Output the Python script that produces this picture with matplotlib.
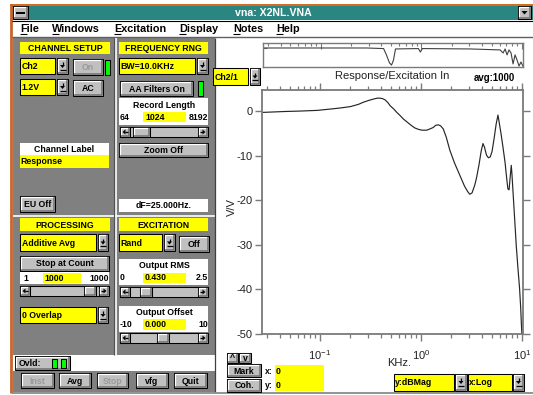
import matplotlib
matplotlib.use("Agg")
import matplotlib.pyplot as plt
from matplotlib.patches import Rectangle, Polygon
from matplotlib.ticker import FixedLocator, FixedFormatter, LogLocator, NullFormatter

plt.rcParams['font.family'] = ['Liberation Sans', 'DejaVu Sans']
plt.rcParams['mathtext.default'] = 'regular'
plt.rcParams['axes.unicode_minus'] = False

# ---- measured transfer function (Ch2/1), frequency in kHz, magnitude in dB
freq_khz = [0.0273, 0.045, 0.064, 0.094, 0.127, 0.160, 0.200, 0.240, 0.270, 0.305,
            0.339, 0.370, 0.395, 0.420, 0.442, 0.470, 0.495, 0.535, 0.576, 0.620,
            0.670, 0.740, 0.809, 0.870, 0.940, 1.02, 1.14, 1.23, 1.32, 1.40,
            1.48, 1.56, 1.66, 1.78, 1.93, 2.15, 2.42, 2.70, 2.90, 3.04,
            3.20, 3.40, 3.54, 3.75, 3.95, 4.11, 4.25, 4.45, 4.65, 4.85,
            5.05, 5.30, 5.55, 5.78, 5.95, 6.20, 6.47, 6.80, 7.05, 7.25,
            7.45, 7.62, 7.83, 7.95, 8.11, 8.40, 8.77, 9.10, 9.45, 9.70,
            9.88, 10.0]
mag_db = [-0.2, 0.0, 0.1, 0.25, 0.55, 0.8, 1.1, 1.6, 2.1, 2.5,
          2.8, 3.0, 3.0, 2.85, 2.6, 2.0, 1.3, 0.6, -0.2, -0.9,
          -1.7, -2.5, -3.2, -3.7, -4.0, -4.2, -4.2, -3.9, -3.6, -3.1,
          -3.0, -3.2, -3.9, -5.8, -8.7, -11.6, -14.3, -16.8, -18.0, -18.6,
          -18.3, -16.6, -15.0, -12.0, -8.8, -7.2, -8.0, -9.8, -10.4, -10.2,
          -9.0, -6.0, -2.8, -0.8, -2.5, -5.0, -7.9, -11.5, -15.0, -17.4,
          -17.6, -15.0, -12.1, -14.0, -17.3, -23.0, -30.1, -35.0, -39.6, -44.0,
          -48.2, -50.5]

# ---- coherence overview strip
coh_freq = [0.0273, 0.285, 0.421, 0.450, 0.482, 0.505, 0.528, 0.553, 0.934, 0.977,
            1.023, 3.05, 6.06, 6.49, 6.79, 7.10, 7.43, 7.78, 8.15, 8.53,
            8.92, 9.34, 9.77, 10.2]
coh_vals = [0.99, 0.99, 0.96, 0.62, 0.21, 0.10, 0.36, 0.94, 0.96, 0.78,
            0.96, 0.94, 0.89, 0.73, 0.94, 0.63, 0.89, 0.73, 0.16, 0.63,
            0.37, 0.05, 0.26, 0.05]

y_ticks = [0, -10, -20, -30, -40, -50]
y_tick_labels = ['0', '-10', '-20', '-30', '-40', '-50']
x_ticks = [0.1, 1.0, 10.0]
x_tick_labels = [r'$10^{-1}$', r'$10^{0}$', r'$10^{1}$']

menu_items = ['File', 'Windows', 'Excitation', 'Display', 'Notes', 'Help']
menu_x = [20, 52, 114, 179, 233, 276]

W, H = 533, 395
fig = plt.figure(figsize=(W / 100, H / 100), dpi=100)
fig.patch.set_facecolor('white')
ui = fig.add_axes([0, 0, 1, 1])
ui.set_xlim(0, W)
ui.set_ylim(H, 0)
ui.axis('off')

GRAY = '#808080'
FACE = '#c0c0c0'
YEL = '#ffff00'
GRN = '#00ff00'
UIFONT = 6.3


def rect(x0, y0, x1, y1, fc, ec='none', lw=0.8, z=1):
    ui.add_patch(Rectangle((x0, y0), x1 - x0, y1 - y0, facecolor=fc,
                           edgecolor=ec, lw=lw, zorder=z))


def line(xs, ys, c='black', lw=0.75, z=3):
    ui.plot(xs, ys, color=c, lw=lw, zorder=z, solid_capstyle='butt')


def label(x, y, s, ha='left', size=UIFONT, weight='bold', color='black', z=5):
    ui.text(x, y, s, ha=ha, va='center', fontsize=size, fontweight=weight,
            color=color, zorder=z)


def bevel(x0, y0, x1, y1, z=2):
    rect(x0, y0, x1, y1, FACE, 'black', 0.75, z)
    line([x0 + 1, x0 + 1, x1 - 1], [y1 - 1, y0 + 1, y0 + 1], 'white', 0.9, z + 0.1)
    line([x0 + 1, x1 - 1, x1 - 1], [y1 - 1, y1 - 1, y0 + 1], '#707070', 1.1, z + 0.1)


def button(x0, y0, x1, y1, text, enabled=True):
    bevel(x0, y0, x1, y1)
    label((x0 + x1) / 2, (y0 + y1) / 2 + 0.5, text, ha='center',
          color='black' if enabled else '#9a9a9a')


def down_glyph(cx, cy):
    line([cx, cx], [cy - 4, cy - 1], 'black', 0.9, 6)
    ui.add_patch(Polygon([[cx - 2.5, cy - 1], [cx + 2.5, cy - 1], [cx, cy + 2]],
                         closed=True, facecolor='black', edgecolor='none', zorder=6))
    line([cx - 3, cx + 3], [cy + 3.8, cy + 3.8], 'black', 0.9, 6)


def arrow_box(x0, y0, x1, y1, direction):
    bevel(x0, y0, x1, y1, z=3)
    cx, cy = (x0 + x1) / 2, (y0 + y1) / 2
    if direction < 0:
        pts = [[cx - 2.5, cy], [cx + 0.5, cy - 2.5], [cx + 0.5, cy + 2.5]]
        line([cx, cx + 3], [cy, cy], 'black', 0.9, 6)
    else:
        pts = [[cx + 2.5, cy], [cx - 0.5, cy - 2.5], [cx - 0.5, cy + 2.5]]
        line([cx - 3, cx], [cy, cy], 'black', 0.9, 6)
    ui.add_patch(Polygon(pts, closed=True, facecolor='black', edgecolor='none', zorder=6))


def scrollbar(x0, y0, x1, y1, t0, t1):
    rect(x0, y0, x1, y1, FACE, 'black', 0.75, 2)
    arrow_box(x0, y0, x0 + 10, y1, -1)
    arrow_box(x1 - 10, y0, x1, y1, 1)
    bevel(t0, y0, t1, y1, z=3)


def indicator(x0, y0, x1, y1):
    rect(x0, y0, x1, y1, GRN, 'black', 0.75, 3)


def range_box(y0, y1, title, lo, val, hi, title_y, row_y, ylo, yhi):
    rect(119, y0, 208, y1, 'white', 'none', 0.75, 2)
    if title:
        label(164, title_y, title, ha='center')
    rect(143, ylo, 186, yhi, YEL, 'none', 0.75, 3)
    label(119.5, row_y, lo)
    label(145, row_y, val)
    label(208, row_y, hi, ha='right')


# ---- window frame, title bar and menu
line([10, W], [4.5, 4.5], '#d2691e', 1.4, 2)
line([11, 11], [4, 393], '#c8642a', 2.0, 2)
rect(12, 5.5, W, 20, '#2a8680', 'none', 0, 1)
bevel(13, 6, 28, 19)
line([16, 25], [12.5, 12.5], 'black', 1.4, 6)
ui.text(273, 13, 'vna: X2NL.VNA', ha='center', va='center', fontsize=7.6,
        fontweight='bold', color='white', zorder=5)
bevel(518, 6, 531, 19)
ui.add_patch(Polygon([[521.5, 11], [527.5, 11], [524.5, 14.5]], closed=True,
                     facecolor='black', zorder=6))
rect(12, 20, W, 37, 'white', 'none', 0, 1)
line([12, W], [20.5, 20.5], 'black', 0.8, 2)
line([12, W], [37, 37], '#606060', 1.0, 2)
for name, mx in zip(menu_items, menu_x):
    ui.text(mx, 29.5, name, ha='left', va='center', fontsize=7.8,
            fontweight='bold', color='black', zorder=5)
    line([mx + 0.3, mx + 6.5], [34.2, 34.2], 'black', 0.8, 5)

# ---- left control column
rect(12.5, 38, 215, 355, GRAY, 'none', 0, 1)
rect(12.5, 355, 215, 371, 'white', 'none', 0, 1)
rect(12.5, 371, 215, 392, GRAY, 'none', 0, 1)
line([13, 215], [216, 216], 'white', 1.2, 2)
line([115.5, 115.5], [38, 357], 'white', 1.2, 2)
line([113.5, 113.5], [38, 355], '#505050', 0.8, 2)
line([214.5, 214.5], [38, 392], '#404040', 0.9, 2)
line([12, W], [392.5, 392.5], '#808080', 1.2, 2)

# CHANNEL SETUP
rect(20, 42, 110, 54, YEL, 'none', 0, 2)
label(65, 48.5, 'CHANNEL SETUP', ha='center')
rect(20, 58, 55, 74, YEL, 'black', 0.75, 2)
label(21.5, 66.5, 'Ch2')
bevel(57, 58, 68, 74)
down_glyph(62.5, 66)
button(73, 59, 103, 75, 'On', enabled=False)
indicator(105, 60, 110, 75)
rect(20, 79, 55, 95, YEL, 'black', 0.75, 2)
label(21.5, 87.5, '1.2V')
bevel(57, 79, 68, 95)
down_glyph(62.5, 87)
button(73, 80, 103, 96, 'AC')
rect(20, 143, 109, 155, 'white', 'none', 0, 2)
label(64.5, 149, 'Channel Label', ha='center')
rect(20, 155, 109, 168, YEL, 'none', 0, 2)
label(20.5, 161.5, 'Response')
button(20, 196, 55, 212, 'EU Off')

# FREQUENCY RNG
rect(119, 42, 208, 54, YEL, 'none', 0, 2)
label(163.5, 48.5, 'FREQUENCY RNG', ha='center')
rect(119, 58, 195, 74, YEL, 'black', 0.75, 2)
label(120.5, 66.5, 'BW=10.0KHz')
bevel(197, 58, 208, 74)
down_glyph(202.5, 66)
button(120, 81, 193, 96, 'AA Filters On')
indicator(198, 81, 203, 96)
range_box(98, 125, 'Record Length', '64', '1024', '8192', 105.5, 117.5, 112, 122)
scrollbar(120, 127, 208, 137, 133, 150)
button(119, 143, 208, 157, 'Zoom Off')
rect(119, 199, 208, 212, 'white', 'none', 0, 2)
label(163.5, 206, 'dF=25.000Hz.', ha='center')

# PROCESSING
rect(20, 218, 110, 231, YEL, 'none', 0, 2)
label(65, 225, 'PROCESSING', ha='center')
rect(20, 234, 96, 251, YEL, 'black', 0.75, 2)
label(21.5, 243, 'Additive Avg')
bevel(98, 234, 108, 251)
down_glyph(103, 242.5)
button(20, 256, 109, 271, 'Stop at Count')
rect(20, 272, 109, 284, 'white', 'none', 0, 2)
rect(43, 273, 81, 283, YEL, 'none', 0, 3)
label(26, 278.5, '1', ha='center')
label(44, 278.5, '1000')
label(109, 278.5, '1000', ha='right')
scrollbar(20, 286, 109, 296, 84, 96)
rect(20, 307, 96, 323, YEL, 'black', 0.75, 2)
label(21.5, 315.5, '0 Overlap')
bevel(98, 307, 108, 323)
down_glyph(103, 315)

# EXCITATION
rect(119, 218, 208, 231, YEL, 'none', 0, 2)
label(163.5, 225, 'EXCITATION', ha='center')
rect(119, 234, 162, 251, YEL, 'black', 0.75, 2)
label(120.5, 243, 'Rand')
bevel(164, 234, 175, 251)
down_glyph(169.5, 242.5)
button(179, 236, 209, 252, 'Off')
range_box(259, 285, 'Output RMS', '0', '0.430', '2.5', 265.5, 278, 273, 283)
scrollbar(120, 287, 208, 297, 140, 152)
range_box(306, 332, 'Output Offset', '-10', '0.000', '10', 312.5, 324.5, 319, 330)
scrollbar(120, 333, 208, 343, 157, 169)

# overload indicators and bottom buttons
bevel(15, 356, 70, 370)
label(19, 363.5, 'Ovld:')
indicator(52, 359, 57, 368)
indicator(61, 359, 66, 368)
button(21, 373, 54, 388, 'Inst', enabled=False)
button(59, 373, 91, 388, 'Avg')
button(97, 373, 128, 388, 'Stop', enabled=False)
button(136, 373, 168, 388, 'vfg')
button(174, 373, 207, 388, 'Quit')

# ---- plot area controls
rect(213, 68, 248, 85, YEL, 'black', 0.75, 2)
label(214.5, 77, 'Ch2/1')
bevel(250, 68, 260, 85)
down_glyph(255, 76.5)
ui.text(392, 76, 'Response/Excitation In', ha='center', va='center',
        fontsize=8, color='#222222', zorder=5)
label(474, 78, 'avg:1000', size=6.9)
ui.text(232, 207, 'V/V', ha='center', va='center', rotation=90, fontsize=8,
        color='#222222', zorder=5)
ui.text(387, 363, 'KHz.', ha='left', va='center', fontsize=8,
        color='#222222', zorder=5)

bevel(227, 353, 238, 363)
label(232.5, 358, '^', ha='center')
bevel(239, 353, 251, 363)
label(245, 358.5, 'v', ha='center')
button(227, 364, 261, 377, 'Mark')
button(227, 379, 261, 392, 'Coh.')
label(265, 371.5, 'x:', z=8)
label(265, 385.5, 'y:', z=8)
rect(275, 365, 324, 391, YEL, 'none', 0, 2)
label(276, 371.5, '0')
label(276, 385.5, '0')

rect(394, 374, 454, 391, YEL, 'black', 0.75, 2)
label(395, 382.5, 'y:dBMag')
bevel(455, 374, 467, 391)
down_glyph(461, 382)
rect(468, 374, 512, 391, YEL, 'black', 0.75, 2)
label(469, 382.5, 'x:Log')
bevel(513, 374, 524, 391)
down_glyph(518.5, 382)


def px_axes(x0, y0, x1, y1):
    return fig.add_axes([x0 / W, 1 - y1 / H, (x1 - x0) / W, (y1 - y0) / H])


XLIM = (0.02666, 10.23)
SPINE = '#7a7a7a'

# ---- main magnitude plot
ax = px_axes(262, 90, 523, 334)
ax.set_facecolor('none')
ax.plot(freq_khz, mag_db, color='#262626', lw=0.85)
ax.set_xscale('log')
ax.set_xlim(*XLIM)
ax.set_ylim(-50, 4.83)
ax.yaxis.set_major_locator(FixedLocator(y_ticks))
ax.yaxis.set_major_formatter(FixedFormatter(y_tick_labels))
ax.xaxis.set_major_locator(FixedLocator(x_ticks))
ax.xaxis.set_major_formatter(FixedFormatter(x_tick_labels))
ax.xaxis.set_minor_locator(LogLocator(base=10, subs=range(2, 10)))
ax.xaxis.set_minor_formatter(NullFormatter())
ax.tick_params(axis='both', which='major', direction='out', length=5, width=1,
               color=SPINE, labelsize=8, labelcolor='#222222', pad=2,
               top=True, right=True)
ax.tick_params(axis='x', which='minor', direction='out', length=3, width=0.9,
               color=SPINE, top=True)
ax.tick_params(axis='x', which='major', pad=5)
for s in ax.spines.values():
    s.set_color(SPINE)
    s.set_linewidth(1.3)

# ---- coherence overview strip
ov = px_axes(263, 43, 523, 67)
ov.set_facecolor('white')
ov.plot(coh_freq, coh_vals, color='#404040', lw=0.8)
ov.set_xscale('log')
ov.set_xlim(*XLIM)
ov.set_ylim(0, 1.25)
ov.xaxis.set_major_locator(FixedLocator(x_ticks))
ov.xaxis.set_minor_locator(LogLocator(base=10, subs=range(2, 10)))
ov.xaxis.set_major_formatter(NullFormatter())
ov.xaxis.set_minor_formatter(NullFormatter())
ov.yaxis.set_major_locator(FixedLocator([1.0]))
ov.yaxis.set_major_formatter(NullFormatter())
ov.tick_params(axis='x', which='both', direction='in', top=True, bottom=False,
               color=SPINE, width=0.8)
ov.tick_params(axis='x', which='major', length=4)
ov.tick_params(axis='x', which='minor', length=2.5)
ov.tick_params(axis='y', direction='in', length=3, color=SPINE, width=0.8)
for s in ov.spines.values():
    s.set_color(SPINE)
    s.set_linewidth(1.0)

fig.savefig('out.png', dpi=100, facecolor='white')
